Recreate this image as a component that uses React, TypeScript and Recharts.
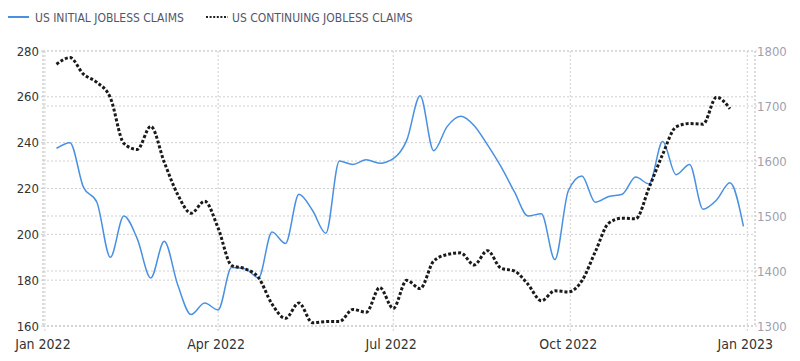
import React from 'react';
import { ComposedChart, Line, XAxis, YAxis, CartesianGrid } from 'recharts';

// Day offsets from 1 Jan 2022 of each weekly observation
const weekDays = [
  6, 13, 20, 27, 34, 41, 48, 55, 62, 69, 76, 83, 90, 97, 104, 111, 118, 125, 132, 139,
  146, 153, 160, 167, 174, 181, 188, 195, 202, 209, 216, 223, 230, 237, 244, 251, 258,
  265, 272, 279, 286, 293, 300, 307, 314, 321, 328, 335, 342, 349, 356, 363,
];

// US initial jobless claims (thousands) - left axis
const initialClaims = [
  237.5, 240, 220.6, 214, 190, 208, 198, 181, 197, 178, 165, 170, 167, 185.5, 185, 181,
  201, 196, 217.5, 210.5, 200.5, 232, 230.5, 232.5, 231, 233, 241, 260.5, 236.5, 247,
  251.5, 247.5, 239, 229.5, 218.5, 208, 209, 189, 219, 225.5, 214, 216.5, 217.5, 225,
  222, 240.5, 226, 230.5, 211, 215, 222.5, 203.5,
];

// US continuing jobless claims (thousands) - right axis
const continuingClaims = [
  1776, 1788, 1758, 1743, 1715, 1632, 1621, 1663, 1598, 1539, 1505, 1527, 1478, 1410,
  1404, 1388, 1340, 1314, 1342, 1306, 1308, 1308, 1330, 1325, 1370, 1332, 1383, 1368,
  1418, 1430, 1433, 1411, 1437, 1405, 1400, 1376, 1346, 1364, 1362, 1382, 1435, 1487,
  1496, 1495, 1552, 1612, 1662, 1668, 1667, 1716, 1695,
];

const xTickDays = [0, 90, 181, 273, 365];
const xTickLabels = ['Jan 2022', 'Apr 2022', 'Jul 2022', 'Oct 2022', 'Jan 2023'];
const leftTicks = [160, 180, 200, 220, 240, 260, 280];
const rightTicks = [1300, 1400, 1500, 1600, 1700, 1800];

const seriesNames = ['US INITIAL JOBLESS CLAIMS', 'US CONTINUING JOBLESS CLAIMS'];

const data = weekDays.map((d, i) => ({
  day: d,
  initial: initialClaims[i],
  continuing: i < continuingClaims.length ? continuingClaims[i] : null,
}));

const FONT = '"DejaVu Sans Condensed", "DejaVu Sans", sans-serif';
const BLUE = '#4a90e2';
const GRID = '#cfcfcf';

const XTick = (props: any) => {
  const { x, y, payload } = props;
  const idx = xTickDays.indexOf(payload.value);
  const label = idx >= 0 ? xTickLabels[idx] : '';
  return (
    <text x={x - 2} y={y} dy="0.71em" textAnchor="middle" fill="#333" fontSize={14} fontFamily={FONT}>
      {label}
    </text>
  );
};

export default function App() {
  return (
    <div style={{ position: 'absolute', left: 0, top: 0, width: 800, height: 361, background: '#fff' }}>
      <div style={{ position: 'absolute', left: 0, top: 0, width: 800, height: 30, fontFamily: FONT, fontSize: 12, color: '#55556a' }}>
        <div style={{ position: 'absolute', left: 8, top: 16, width: 21, height: 2, background: BLUE }} />
        <div style={{ position: 'absolute', left: 35, top: 11, lineHeight: '14px', whiteSpace: 'nowrap' }}>{seriesNames[0]}</div>
        <svg style={{ position: 'absolute', left: 206, top: 15 }} width={22} height={4}>
          <line x1={0} y1={2} x2={22} y2={2} stroke="#222" strokeWidth={2} strokeDasharray="2 1.6" />
        </svg>
        <div style={{ position: 'absolute', left: 232, top: 11, lineHeight: '14px', whiteSpace: 'nowrap' }}>{seriesNames[1]}</div>
      </div>
      <ComposedChart width={800} height={361} data={data} margin={{ top: 51, right: 0, bottom: 0, left: 0 }}>
        <CartesianGrid yAxisId="left" stroke={GRID} strokeDasharray="2 2" />
        <CartesianGrid yAxisId="right" vertical={false} stroke={GRID} strokeDasharray="2 2" />
        <XAxis
          dataKey="day"
          type="number"
          domain={[-1, 369]}
          ticks={xTickDays}
          allowDataOverflow
          height={35}
          axisLine={{ stroke: GRID, strokeDasharray: '2 2' }}
          tickLine={{ stroke: GRID, strokeDasharray: '2 2' }}
          tickSize={5}
          tickMargin={8}
          tick={<XTick />}
          interval={0}
        />
        <YAxis
          yAxisId="left"
          domain={[160, 280]}
          ticks={leftTicks}
          width={43}
          axisLine={{ stroke: GRID, strokeDasharray: '2 2' }}
          tickLine={{ stroke: GRID, strokeDasharray: '2 2' }}
          tickSize={2}
          tickMargin={2}
          tick={{ fill: '#333', fontSize: 13, fontFamily: FONT }}
          interval={0}
        />
        <YAxis
          yAxisId="right"
          orientation="right"
          domain={[1300, 1800]}
          ticks={rightTicks}
          width={45}
          axisLine={{ stroke: GRID, strokeDasharray: '2 2' }}
          tickLine={{ stroke: GRID, strokeDasharray: '2 2' }}
          tickSize={2}
          tickMargin={0}
          tick={{ fill: '#a09fb2', fontSize: 13, fontFamily: FONT }}
          interval={0}
        />
        <Line
          yAxisId="left"
          dataKey="initial"
          type="monotone"
          stroke={BLUE}
          strokeWidth={1.5}
          dot={false}
          activeDot={false}
          isAnimationActive={false}
        />
        <Line
          yAxisId="right"
          dataKey="continuing"
          type="monotone"
          stroke="#1a1a1a"
          strokeWidth={3}
          strokeDasharray="3 2"
          dot={false}
          activeDot={false}
          isAnimationActive={false}
        />
      </ComposedChart>
    </div>
  );
}
